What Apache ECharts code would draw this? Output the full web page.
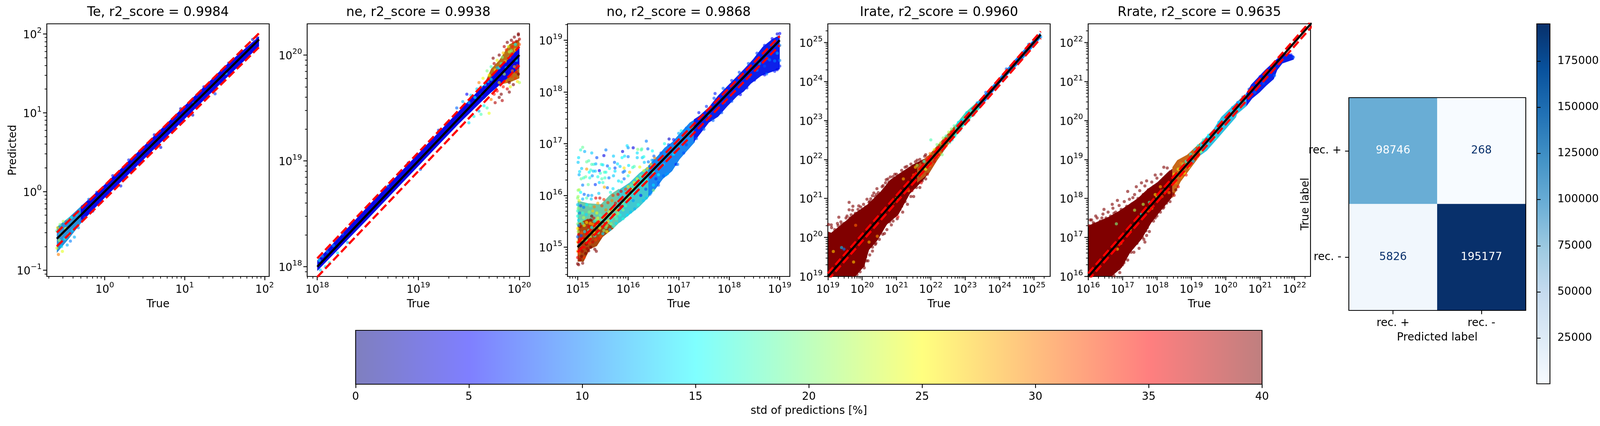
<!DOCTYPE html>
<html><head><meta charset="utf-8">
<!-- NOTE: the sandbox browser reports innerWidth=4096 although 4886 is requested; horizontal layout is scaled by innerWidth/4886 so that nothing is cut off. -->
<script src="https://cdn.jsdelivr.net/npm/echarts@6/dist/echarts.min.js"></script>
<style>html,body{margin:0;padding:0;background:#fff;overflow:hidden}</style>
</head><body><div id="c"></div>
<script>
// ---------- Colour scales ----------
const jetColors=['#00007f','#0000ff','#007fff','#00ffff','#7fff7f','#ffff00','#ff7f00','#ff0000','#7f0000'];
const bluesColors=['#f7fbff','#deebf7','#c6dbef','#9ecae1','#6baed6','#4292c6','#2171b5','#08519c','#08306b'];
const stdTicks=[0,5,10,15,20,25,30,35,40];
const countTicks=[25000,50000,75000,100000,125000,150000,175000];
const countRange=[268,195177];
// ---------- Confusion matrix ----------
const cmLabels=['rec. +','rec. -'];
const cmRowPlus=[98746,268];
const cmRowMinus=[5826,195177];
// ---------- Ideal line (true value range, log10) and the two dashed factors ----------
const upperFactor=1.2, lowerFactor=0.8;
const teLine=[-0.6,1.93], neLine=[18,20], noLine=[15,19], irLine=[19,25.2], rrLine=[16,23];
// ---------- Panel ranges (log10) ----------
const teX=[-0.725,2.057], teY=[-1.079,2.129];
const neX=[17.9,20.1],   neY=[17.908,20.295];
const noX=[14.8,19.2],   noY=[14.434,19.317];
const irX=[19,25.476],   irY=[19,25.476];
const rrX=[16,22.467],   rrY=[16,22.476];
// ---------- Dense band outlines [log10 true, log10 predicted] ----------
const teBand=[[-0.3,-0.19],[0,0.09],[0.5,0.59],[1,1.09],[1.5,1.59],[1.93,1.97],[1.93,1.84],[1.5,1.42],[1,0.92],[0.5,0.42],[0,-0.08],[-0.3,-0.4]];
const teBandLow=[[-0.6,-0.45],[-0.45,-0.33],[-0.28,-0.17],[-0.28,-0.38],[-0.45,-0.6],[-0.6,-0.78]];
const neBand=[[18,18.06],[18.5,18.57],[19,19.07],[19.4,19.47],[19.7,19.77],[20.0,20.07],[20.0,19.88],[19.7,19.63],[19.4,19.35],[19,18.95],[18.5,18.45],[18,17.96]];
const neFringe=[[19.65,19.72],[19.72,19.87],[19.8,19.95],[19.9,20.1],[20.0,20.15],[20.0,19.78],[19.9,19.74],[19.8,19.72],[19.75,19.68],[19.65,19.58]];
const noBlue=[[17.3,17.47],[17.41,17.54],[17.6,17.71],[17.78,17.93],[17.97,18.12],[18.1,18.25],[18.29,18.44],[18.47,18.63],[18.66,18.87],[18.85,19.02],[19.0,19.1],[19,18.44],[18.82,18.38],[18.63,18.31],[18.43,18.16],[18.29,18.01],[18.16,17.92],[17.97,17.73],[17.78,17.52],[17.6,17.41],[17.41,17.17],[17.3,17.03]];
const noCyan=[[16.4,16.58],[16.59,16.77],[16.72,16.92],[16.87,17.03],[17.06,17.24],[17.22,17.41],[17.32,17.47],[17.32,17.03],[17.22,16.92],[17.02,16.7],[16.87,16.47],[16.69,16.32],[16.53,16.11],[16.4,15.98]];
const noGreen=[[15.8,16.1],[16.03,16.25],[16.22,16.43],[16.42,16.58],[16.42,15.98],[16.22,15.78],[16.03,15.63],[15.84,15.48],[15.8,15.46]];
const noLowTop=[[15,15.9],[15.21,15.85],[15.46,15.83],[15.65,16.02],[15.82,16.13],[15.82,15.47],[15.71,15.36],[15.5,15.45],[15.2,15.5],[15,15.4]];
const noLowBot=[[15,15.45],[15.2,15.55],[15.5,15.5],[15.71,15.4],[15.71,15.36],[15.5,15.2],[15.38,15.02],[15.24,14.96],[15.12,14.72],[15,14.72]];
const irRed=[[19,20.15],[19.1,20.12],[19.49,20.4],[19.78,20.62],[20.16,20.85],[20.53,21.17],[20.82,21.48],[21.1,21.65],[21.48,21.87],[21.77,22.0],[21.95,22.08],[21.95,21.66],[21.77,21.46],[21.39,21.12],[21.05,20.58],[20.72,20.33],[20.44,19.92],[20.2,19.68],[20.06,19.26],[19.8,19],[19,19]];
const irWarm=[[21.6,21.85],[21.95,22.12],[22.33,22.5],[22.71,22.88],[22.71,22.58],[22.52,22.39],[22.19,21.98],[21.95,21.64],[21.6,21.4]];
const irCyan=[[22.71,22.88],[23.0,23.2],[23.4,23.52],[23.4,23.28],[23.0,22.9],[22.71,22.58]];
const irBlue=[[23.4,23.52],[23.72,23.82],[24.63,24.74],[25.19,25.25],[25.21,25.12],[24.63,24.52],[24.06,24.0],[23.4,23.28]];
const rrRed=[[16,17.3],[16.31,17.42],[16.6,17.53],[16.88,17.67],[17.17,17.84],[17.45,18.01],[17.74,18.25],[18.02,18.42],[18.31,18.67],[18.45,18.76],[18.45,18.04],[18.07,17.64],[17.83,17.37],[17.55,16.95],[17.22,16.61],[16.98,16.23],[16.68,16],[16,16]];
const rrWarm=[[18.45,18.8],[18.59,18.98],[18.88,19.12],[19.26,19.43],[19.26,19.1],[19.07,18.88],[18.69,18.43],[18.45,18.0]];
const rrCyan=[[19.26,19.43],[19.64,19.77],[19.87,20.09],[20.34,20.49],[20.6,20.7],[20.6,20.36],[20.33,20.16],[20.3,20.08],[19.73,19.5],[19.45,19.22],[19.26,19.1]];
const rrBlue=[[20.6,20.7],[20.74,20.92],[21.14,21.29],[21.54,21.62],[21.8,21.72],[21.98,21.66],[21.98,21.56],[21.65,21.46],[21.5,21.29],[21.4,21.06],[21.18,20.89],[20.99,20.72],[20.77,20.56],[20.6,20.36]];
// ---------- Individual points [log10 true, log10 predicted, std %] ----------
const tePoints=[[-0.6,-0.72,24],[-0.6,-0.5,18],[-0.59,-0.46,26],[-0.58,-0.8,30],[-0.57,-0.62,22],[-0.56,-0.42,20],[-0.55,-0.55,28],[-0.54,-0.7,14],[-0.53,-0.76,24],[-0.52,-0.38,22],[-0.5,-0.6,16],[-0.49,-0.47,25],[-0.47,-0.68,12],[-0.46,-0.36,18],[-0.45,-0.55,20],[-0.43,-0.63,10],[-0.42,-0.33,16],[-0.4,-0.49,14],[-0.38,-0.58,12],[-0.36,-0.29,15],[-0.33,-0.46,11],[-0.3,-0.37,10],[-0.28,-0.19,9],[-0.25,-0.33,8],[-0.2,-0.1,9],[-0.15,-0.25,7],[-0.1,-0.01,6],[-0.05,-0.14,7],[0.1,0.2,5],[0.3,0.4,6],[0.62,0.72,4],[0.95,1.05,3],[1.115,1.12,12],[1.516,1.5,14],[1.38,1.24,7],[1.24,1.33,5],[1.55,1.63,4],[1.7,1.76,3],[1.85,1.93,3],[1.9,1.96,2],[0.2,0.07,6],[0.7,0.56,4],[1.1,0.97,3]];
const nePoints=[[18.02,18.06,15],[18.03,17.97,13],[18.05,18.1,12],[18.08,18.0,14],[18.1,18.14,10],[18.12,18.04,16],[18.16,18.2,11],[18.2,18.13,14],[18.25,18.31,9],[18.3,18.23,12],[18.7,18.76,8],[18.9,18.98,6],[19.02,18.92,8],[19.2,19.29,7],
[19.38,19.5,9],[19.44,19.56,12],[19.48,19.63,5],[19.5,19.55,13],[19.52,19.62,14],[19.56,19.6,15],[19.58,19.68,13],[19.6,19.74,30],[19.62,19.7,15],[19.64,19.78,24],[19.66,19.72,17],[19.68,19.85,20],[19.7,19.81,25],[19.72,19.89,18],[19.72,19.77,16],[19.75,19.92,38],[19.76,19.86,26],[19.78,19.95,24],[19.8,19.88,15],[19.8,20.0,40],[19.83,19.98,20],[19.85,20.08,38],[19.86,19.94,28],[19.88,20.12,40],[19.9,20.03,22],[19.9,19.98,14],[19.92,20.14,40],[19.93,20.08,34],[19.95,20.17,40],[19.96,20.05,26],[19.97,20.13,38],[19.99,20.19,40],[20.0,20.15,38],[20.0,20.1,32],[19.99,20.2,40],[19.94,20.12,36],[19.87,20.05,33],[19.82,19.92,18],
[19.5,19.36,14],[19.55,19.42,16],[19.6,19.47,12],[19.62,19.44,18],[19.65,19.52,15],[19.68,19.5,18],[19.7,19.45,24],[19.72,19.58,30],[19.75,19.63,34],[19.76,19.55,38],[19.78,19.66,35],[19.8,19.6,40],[19.82,19.63,40],[19.84,19.7,34],[19.86,19.75,30],[19.88,19.68,36],[19.9,19.74,40],[19.92,19.8,33],[19.94,19.72,40],[19.96,19.78,33],[19.98,19.75,26],[20.0,19.74,22],[19.99,19.82,40],[19.97,19.84,36],[19.93,19.85,30],[19.85,19.82,22],[19.98,19.9,33],[19.95,19.89,28],[19.8,19.74,26],[19.9,19.65,40],[19.83,19.57,38],
[19.74,19.97,40],[19.84,20.02,27],[19.92,20.04,20],[19.96,20.1,15],[19.89,20.08,24],[19.78,19.88,12],[19.69,19.75,14],[19.62,19.62,12],[19.97,19.95,14],[19.87,19.88,13],[19.91,19.7,24]];
const noPoints=[[15.06,16.88,17],[15.1,16.93,19],[15.14,16.85,12],[15.28,16.82,13],[15.02,16.73,14],[15.01,16.64,13],[15.38,16.73,8],[15.52,16.77,4],[15.56,16.88,10],[15.71,16.76,13],[15.73,16.64,9],[15.79,16.61,14],[15.89,16.85,4],[15.93,16.76,14],[15.88,16.73,15],[16.0,16.75,10],[15.98,16.96,14],[16.0,16.92,11],[16.1,16.92,4],[16.19,16.89,20],[16.27,16.9,18],[16.26,16.88,18],[16.36,17.05,10],[16.39,16.9,9],[16.48,16.86,15],[16.18,16.82,14],[16.18,16.73,13],[16.28,16.73,13],[16.31,16.75,16],[16.32,16.64,13],[16.4,16.65,10],[16.51,16.76,9],[16.47,16.68,12],[15.18,16.65,19],[15.22,16.67,18],[15.28,16.6,18],[15.32,16.6,17],[15.36,16.61,12],[15.47,16.6,17],[15.5,16.59,14],[15.59,16.57,9],[15.63,16.52,16],[15.08,16.52,13],[15.04,16.46,14],[15.03,16.4,12],[15.18,16.51,29],[15.26,16.49,17],[15.23,16.45,15],[15.31,16.47,13],[15.35,16.47,13],[15.43,16.48,5],[15.45,16.43,17],[15.53,16.45,18],[15.56,16.45,16],[15.07,16.32,19],[15.12,16.34,17],[15.16,16.36,19],[15.24,16.34,16],[15.29,16.38,11],[15.4,16.36,16],[15.48,16.32,18],[15.54,16.34,17],[15.62,16.34,10],[15.74,16.53,8],[15.74,16.47,14],[15.84,16.56,13],[15.92,16.53,26],[15.9,16.45,9],[15.93,16.47,10],[16.03,16.45,27],[16.01,16.58,14],[16.09,16.54,17],[16.12,16.56,18],[16.23,16.55,24],[15.71,16.38,13],[15.81,16.28,14],[16.0,16.38,17],[15.92,16.32,9],[15.87,16.26,16],[15.1,16.2,10],[15.35,16.21,7],[15.21,16.21,19],[15.53,16.16,28],[15.43,16.25,13],[15.5,16.25,17],[15.59,16.15,9],[15.7,16.13,14],[15.01,16.1,20],[15.03,16.11,22],[15.06,16.06,15],[15.13,16.02,9],[15.21,16.0,10],[15.28,16.0,12],[15.42,16.04,13],[15.65,16.06,16],
[15.0,14.68,40],[15.02,14.66,40],[15.1,14.69,40],[15.05,14.76,38],[15.0,14.8,36],[15.08,14.82,40],[15.13,14.8,33],[15.03,14.88,32],[15.16,14.88,40],[15.0,14.92,29],[15.09,14.92,38],[15.22,14.93,40],[15.19,14.97,38],[15.06,14.97,40],[15.13,15.0,35],[15.02,15.02,32],[15.26,15.0,40],[15.34,14.96,40],[15.37,14.92,40],[15.17,15.06,40],[15.09,15.08,37],[15.0,15.1,28],[15.24,15.08,33],[15.3,15.1,37],[15.05,15.15,35],[15.14,15.16,38],[15.2,15.18,30],[15.36,15.14,33],[15.42,15.17,34],[15.02,15.24,36],[15.08,15.28,32],[15.17,15.3,37],[15.26,15.26,28],[15.32,15.29,26],[15.46,15.21,32],[15.0,15.36,25],[15.05,15.4,38],[15.13,15.42,24],[15.22,15.4,36],[15.3,15.44,29],[15.38,15.42,22],[15.44,15.37,24],[15.52,15.32,20],[15.58,15.3,24],[15.2,15.5,38],[15.26,15.53,39],[15.32,15.56,36],[15.28,15.6,40],[15.36,15.52,20],[15.42,15.5,28],
[15.0,15.45,20],[15.02,15.52,14],[15.07,15.5,18],[15.12,15.57,22],[15.0,15.6,16],[15.04,15.66,10],[15.1,15.66,17],[15.17,15.63,14],[15.23,15.68,20],[15.3,15.7,27],[15.38,15.66,24],[15.45,15.62,18],[15.52,15.55,22],[15.6,15.5,26],[15.66,15.45,20],[15.01,15.75,20],[15.06,15.8,8],[15.12,15.77,10],[15.18,15.82,15],[15.25,15.8,18],[15.33,15.78,30],[15.4,15.85,28],[15.48,15.8,33],[15.56,15.72,30],[15.63,15.68,26],[15.7,15.62,30],[15.77,15.55,17],[15.03,15.9,24],[15.1,15.93,12],[15.18,15.95,18],[15.27,15.93,13],[15.36,15.95,36],[15.44,15.95,37],[15.52,15.92,33],[15.6,15.86,33],[15.68,15.9,30],[15.75,15.85,36],[15.84,15.8,36],[15.9,15.72,20],[15.8,15.65,22],
[15.7,16.0,33],[15.8,16.02,35],[15.86,16.08,36],[15.95,16.12,32],[16.0,16.17,26],[16.06,16.2,20],[16.12,16.25,25],[16.18,16.32,24],[16.25,16.38,20],[16.31,16.48,24],[16.38,16.52,27],[16.45,16.6,26],[16.53,16.72,30],[15.9,15.55,16],[15.98,15.62,14],[16.05,15.68,13],[16.13,15.74,12],[16.2,15.82,16],[16.3,15.9,13],[16.36,15.95,13],[16.43,16.02,10],[16.5,16.1,20],[16.6,16.25,9],[16.7,16.38,9],[16.78,16.42,11],[16.25,16.0,6],[16.35,16.12,8],[16.55,16.32,7],[16.1,15.9,11],[15.95,15.8,18],[16.1,16.05,16],
[15.04,15.05,12],[15.11,15.12,25],[15.18,15.13,19],[15.25,15.2,22],[15.34,15.22,16],[15.41,15.28,18],[15.5,15.26,14],[15.56,15.38,19],[15.64,15.34,13],[15.7,15.4,16],[15.76,15.46,14],[15.07,15.22,8],[15.14,15.3,14],[15.22,15.32,17],[15.28,15.38,15],[15.35,15.36,20],[15.43,15.42,14],[15.5,15.44,17],[15.58,15.42,21],[15.66,15.52,15],[15.74,15.6,19],[15.02,15.42,11],[15.1,15.46,17],[15.18,15.48,26],[15.25,15.46,28],[15.33,15.5,15],[15.4,15.56,24],[15.48,15.5,16],[15.55,15.6,28],[15.62,15.58,18],[15.69,15.72,24],[15.77,15.72,28],[15.84,15.62,16],[15.9,15.85,20],[15.96,15.93,26],[16.02,15.98,22],[16.08,16.12,24],[15.88,15.93,33],[15.96,16.04,30],[16.03,16.08,34],[16.14,16.18,22],[16.22,16.2,16],[16.28,16.26,14],[16.34,16.38,18],[15.0,15.7,17],[15.0,15.82,13],[15.0,15.95,20],[15.01,15.98,21],[15.0,15.2,9],[15.01,15.3,22],
[17.4,17.6,6],[17.55,17.72,7],[17.7,17.88,8],[17.88,18.07,9],[18.05,18.22,7],[18.2,18.38,8],[18.38,18.55,8],[18.55,18.75,7],[18.7,18.9,6],[18.85,19.03,5],[18.95,19.12,4],[19,19.13,5],[18.95,18.43,4],[18.7,18.33,5],[18.5,18.23,6],[18.35,18.08,6],[18.22,17.95,5],[18.05,17.82,8],[17.85,17.6,8],[17.68,17.45,9],[17.5,17.28,9],[17.35,17.1,8],[18.9,18.6,10],[18.75,18.65,10],[18.4,18.3,9],[18.6,18.55,11],[17.9,17.8,10],[17.6,17.55,11],
[16.5,16.68,10],[16.65,16.82,9],[16.8,16.98,8],[17.0,17.2,12],[17.15,17.3,10],[17.25,17.32,14],[17.15,16.98,8],[16.95,16.6,6],[16.75,16.4,11],[16.6,16.2,9],[16.5,16.2,14],[16.45,16.05,11],[16.7,16.6,13],[16.9,16.8,15],[17.0,16.95,12],[16.6,16.4,15],[16.5,16.45,18],[16.35,16.3,17],
[17.72,17.97,6],[16.81,17.09,3],[16.72,17.0,16],[18.74,18.35,9],[18.9,18.4,6],[19,18.61,10],[18.2,18.3,9],[18.55,18.42,10],[18.8,18.62,10],[18.95,18.75,12],[19.0,18.9,10],[18.88,18.9,9],[18.7,18.5,8],[19,18.5,6],[16.98,16.6,10],[17.1,16.82,8],[17.22,17.1,11],[16.9,17.08,6],[17.05,17.25,15]];
const irRimUpper=[[19.05,20.05],[19.1,20.32],[19.2,20.2],[19.3,20.3],[19.38,20.4],[19.47,20.36],[19.56,20.55],[19.64,20.5],[19.72,20.7],[19.8,20.62],[19.88,20.72],[19.96,20.78],[20.04,20.85],[20.1,20.78],[20.14,20.98],[20.25,20.99],[20.3,21.07],[20.38,21.05],[20.43,21.25],[20.47,21.15],[20.58,21.3],[20.63,21.2],[20.7,21.48],[20.78,21.42],[20.9,21.56],[21.0,21.62],[21.08,21.55],[21.15,21.72],[21.22,21.65],[21.3,21.82],[21.36,21.72],[21.42,21.88],[21.5,21.8],[21.55,21.94],[21.62,21.85],[21.68,22.0],[21.75,21.92],[21.82,22.08]];
const irRimLower=[[19.78,19.1],[19.85,19.05],[19.9,19.3],[19.94,19.12],[20.0,19.42],[20.04,19.28],[20.08,19.55],[20.12,19.4],[20.15,19.7],[20.22,19.55],[20.25,19.78],[20.3,19.65],[20.35,19.93],[20.38,19.82],[20.45,20.02],[20.5,19.95],[20.56,20.2],[20.6,20.08],[20.68,20.35],[20.72,20.2],[20.8,20.4],[20.85,20.32],[20.95,20.55],[21.02,20.48],[21.1,20.72],[21.18,20.65],[21.25,20.92],[21.32,20.85],[21.42,21.05],[21.5,21.05],[21.58,21.28],[21.68,21.28],[21.75,21.45],[21.85,21.5]];
const irPoints=[[19.62,20.9,40],[19.73,20.8,40],[19.9,20.81,40],[19.62,20.71,40],[19.32,20.52,40],[21.04,20.53,36],[20.82,21.55,40],[20.75,21.5,40],[20.68,21.4,40],[20.61,21.33,40],[20.34,21.14,40],[20.22,20.92,40],[19.02,20.33,40],[19.11,20.25,40],[19.28,20.36,40],[19.4,20.33,40],[19.53,20.5,40],[19.68,20.58,40],[20.06,19.22,40],[19.87,19.22,40],[20.02,19.33,40],[20.17,19.4,40],[20.4,19.85,40],[20.65,20.1,40],[19.73,19.03,40],[20.1,19.5,40],[20.3,19.75,40],[20.55,20.15,40],[20.9,20.42,40],[21.15,20.8,40],[21.45,21.2,38],[21.72,21.4,36],[21.9,21.62,38],[20.2,20.9,40],[20.42,21.1,40],[20.95,21.62,40],[21.25,21.8,40],[21.6,21.98,40],[21.85,22.12,40],
[19.4,19.74,13],[19.47,19.7,10],[19.16,19.64,27],[19.75,19.37,27],[19.81,20.31,31],[20.2,19.88,28],[20.44,20.03,29],[20.9,20.9,30],[21.0,21.0,24],[21.5,21.6,31],[21.7,21.6,30],[21.55,21.8,27],[21.2,21.5,28],[21.35,21.2,30],[21.85,21.75,24],[21.6,21.85,22],[21.8,21.95,17],[21.95,21.85,25],[21.9,22.05,33],
[21.98,22.15,30],[22.02,21.85,33],[22.1,22.25,24],[22.1,21.95,36],[22.18,22.38,20],[22.2,22.1,28],[22.28,22.42,22],[22.28,22.15,30],[22.36,22.55,21],[22.35,22.25,17],[22.44,22.6,18],[22.45,22.35,25],[22.52,22.7,22],[22.55,22.43,17],[22.6,22.78,20],[22.62,22.5,14],[22.68,22.86,18],[22.7,22.6,15],[22.8,22.95,14],[22.85,22.75,15],[22.9,23.0,12],[22.95,22.9,14],[23.05,23.2,13],[23.1,23.0,13],[23.2,23.3,12],[23.25,23.15,13],[22.0,22.5,18],[22.33,22.12,20],[23.35,23.45,10],[23.6,23.72,9],[23.9,23.95,9],[24.2,24.32,9],[24.5,24.55,9],[24.85,24.95,9],[25.1,25.15,9],[25.2,25.14,11]];
const rrRimUpper=[[16.03,17.3],[16.1,17.45],[16.18,17.35],[16.26,17.5],[16.35,17.42],[16.43,17.6],[16.52,17.5],[16.58,17.65],[16.65,17.55],[16.72,17.75],[16.8,17.65],[16.9,17.82],[16.96,17.72],[17.05,17.92],[17.12,17.8],[17.2,17.98],[17.27,17.86],[17.35,18.1],[17.45,18.0],[17.5,18.2],[17.6,18.1],[17.65,18.32],[17.75,18.22],[17.85,18.42],[17.9,18.3],[18.0,18.52],[18.05,18.38],[18.12,18.62],[18.2,18.52],[18.3,18.78],[18.38,18.68]];
const rrRimLower=[[16.68,16.08],[16.75,16.02],[16.85,16.35],[16.92,16.1],[17.0,16.3],[17.06,16.55],[17.15,16.42],[17.25,16.62],[17.33,16.62],[17.42,16.85],[17.48,16.72],[17.58,17.0],[17.62,16.95],[17.72,17.25],[17.78,17.15],[17.9,17.42],[18.0,17.55],[18.1,17.65],[18.18,17.75],[18.28,17.88],[18.38,17.92],[18.46,18.12],[18.55,18.22]];
const rrPoints=[[16.06,17.45,40],[16.22,17.55,40],[16.46,17.72,40],[16.7,17.85,40],[16.85,17.95,40],[17.15,18.18,40],[17.4,18.3,40],[17.55,18.4,40],[17.7,18.45,40],[17.95,18.6,40],[18.2,18.8,40],[16.98,16.45,40],[16.8,16.15,40],[16.9,16.2,40],[17.04,16.35,40],[17.1,16.55,40],[17.3,16.75,40],[17.52,17.1,40],[17.7,17.05,40],[17.65,16.88,40],[17.68,17.17,40],[17.95,17.5,40],[18.2,17.78,40],[18.3,17.95,40],[18.5,18.08,38],[18.62,18.3,36],[18.85,18.6,34],[16.15,17.38,40],[16.4,17.5,40],[16.75,17.62,40],[17.3,18.02,40],
[16.82,17.35,20],[17.22,17.2,27],[17.35,17.7,22],[17.42,17.45,18],[17.55,17.6,16],[17.6,17.85,22],[17.75,17.68,30],[17.78,17.9,18],[17.85,17.75,24],[17.95,18.1,26],[18.0,18.05,24],[18.1,18.3,28],[18.15,18.05,32],[18.2,18.2,20],[18.3,18.35,25],[18.35,18.15,30],[16.95,16.85,30],[16.85,16.7,27],
[18.5,18.62,26],[18.55,18.4,30],[18.62,18.75,24],[18.7,18.55,30],[18.75,18.88,20],[18.8,18.65,26],[18.85,18.95,16],[18.92,18.8,24],[18.98,19.13,15],[19.05,18.95,12],[19.1,19.25,13],[19.15,19.05,20],[18.7,18.9,30],[19.2,19.35,15],[19.28,19.2,23],[19.35,19.5,17],[19.42,19.3,14],[19.5,19.62,15],[19.55,19.45,13],[19.65,19.72,18],[19.7,19.55,17],[19.8,19.95,13],[19.9,19.78,14],[20.0,20.1,12],[20.1,20.0,14],[20.2,20.33,12],[20.25,20.15,13],[20.35,20.46,10],[20.42,20.3,12],[20.5,20.6,9],[20.55,20.42,10],[20.68,20.8,8],[20.85,20.72,9],[21.0,21.12,6],[21.1,20.95,8],[21.3,21.2,7],[21.42,21.15,9],[21.5,21.52,4],[21.6,21.62,5],[21.75,21.68,5],[21.9,21.68,6],[21.97,21.62,8]];
// ---------- Tick labels (decades) ----------
const teXTicks=[1,10,100], teYTicks=[0.1,1,10,100];
const neXTicks=[1e18,1e19,1e20], neYTicks=[1e18,1e19,1e20];
const noXTicks=[1e15,1e16,1e17,1e18,1e19], noYTicks=[1e15,1e16,1e17,1e18,1e19];
const irXTicks=[1e19,1e20,1e21,1e22,1e23,1e24,1e25], irYTicks=irXTicks;
const rrXTicks=[1e16,1e17,1e18,1e19,1e20,1e21,1e22], rrYTicks=rrXTicks;

const W=window.innerWidth||4886, H=1091, SX=W/4886;
const dom=document.getElementById('c');dom.style.width=W+'px';dom.style.height=H+'px';
const FONT='"DejaVu Sans"';
const TICK=27.8, TITLE=33.3, LW=2.2;
const rich={b:{fontSize:TICK,fontFamily:FONT,color:'#000',lineHeight:36,verticalAlign:'bottom'},
            s:{fontSize:19.5,fontFamily:FONT,color:'#000',lineHeight:36,verticalAlign:'top'}};
function logFmt(v){const e=Math.round(Math.log10(v));return '{b|10}{s|'+(e<0?'\u2212'+(-e):e)+'}';}
function minors(r){const out=[];for(let k=Math.floor(r[0]);k<=Math.ceil(r[1]);k++){for(let m=2;m<=9;m++){const v=Number(m+'e'+k);const l=Math.log10(v);if(l>r[0]&&l<r[1])out.push(v);}}return out;}
const rim=(a,s)=>a.map(p=>[p[0],p[1],s]);
const nameStyle={fontSize:TICK,fontFamily:FONT,color:'#000',verticalAlign:'middle',align:'center'};

const panels=[
 {title:'Te, r2_score = 0.9984',box:[143,61,679,647],xr:teX,yr:teY,xt:teXTicks,yt:teYTicks,line:teLine,pts:tePoints,
  layers:[[teBandLow,'#2a90d8'],[teBand,'#0808e8']],yName:'Predicted'},
 {title:'ne, r2_score = 0.9938',box:[938,61,679,647],xr:neX,yr:neY,xt:neXTicks,yt:neYTicks,line:neLine,pts:nePoints,
  layers:[[neFringe,'#b87018'],[neBand,'#0808e8']]},
 {title:'no, r2_score = 0.9868',box:[1733,61,679,647],xr:noX,yr:noY,xt:noXTicks,yt:noYTicks,line:noLine,pts:noPoints,
  layers:[[noLowTop,'#6cc8a8'],[noLowBot,'#a84810'],[noGreen,'#40c8d0'],[noCyan,'#1a86f0'],[noBlue,'#0c20ea']]},
 {title:'Irate, r2_score = 0.9960',box:[2528,61,679,647],xr:irX,yr:irY,xt:irXTicks,yt:irYTicks,line:irLine,pts:rim(irRimUpper,40).concat(rim(irRimLower,40),irPoints),
  layers:[[irRed,'#800000'],[irWarm,'#b85818'],[irCyan,'#40d8b0'],[irBlue,'#1a80f0']]},
 {title:'Rrate, r2_score = 0.9635',box:[3323,61,679,647],xr:rrX,yr:rrY,xt:rrXTicks,yt:rrYTicks,line:rrLine,pts:rim(rrRimUpper,40).concat(rim(rrRimLower,40),rrPoints),
  layers:[[rrRed,'#800000'],[rrWarm,'#c86818'],[rrCyan,'#30c0e0'],[rrBlue,'#0c20ea']]}
];

const grid=[],xAxis=[],yAxis=[],series=[],title=[];
const scatterIdx=[];
panels.forEach(function(p){
  const l=p.box[0]*SX,t=p.box[1],w=p.box[2]*SX,h=p.box[3];
  grid.push({left:l,top:t,width:w,height:h,show:true,borderColor:'#000',borderWidth:LW,backgroundColor:'transparent',z:3});
  title.push({text:p.title,left:l+w/2,top:16,textAlign:'center',padding:0,textStyle:{fontSize:TITLE,fontWeight:'normal',fontFamily:FONT,color:'#000'}});
  const gi=grid.length-1;
  const base=(r,ticks,extra)=>Object.assign({type:'log',logBase:10,gridIndex:gi,min:Math.pow(10,r[0]),max:Math.pow(10,r[1]),splitLine:{show:false},minorTick:{show:false},minorSplitLine:{show:false},axisLine:{show:false},nameMoveOverlap:false,
     axisTick:{show:true,inside:false,length:9.7,lineStyle:{width:LW,color:'#000'},customValues:ticks},
     axisLabel:{show:true,margin:13,customValues:ticks,formatter:logFmt,rich:rich,hideOverlap:false}},extra);
  const baseMinor=(r,extra)=>Object.assign({type:'log',logBase:10,gridIndex:gi,min:Math.pow(10,r[0]),max:Math.pow(10,r[1]),splitLine:{show:false},axisLine:{show:false},
     axisLabel:{show:false},axisTick:{show:true,length:5.6,lineStyle:{width:1.7,color:'#000'},customValues:minors(r)}},extra);
  const xi=xAxis.length, yi=yAxis.length;
  xAxis.push(base(p.xr,p.xt,{position:'bottom',name:'True',nameLocation:'middle',nameGap:72,nameTextStyle:nameStyle}));
  xAxis.push(baseMinor(p.xr,{position:'bottom'}));
  const yExtra={position:'left'};
  if(p.yName){Object.assign(yExtra,{name:p.yName,nameLocation:'middle',nameGap:86,nameRotate:90,nameTextStyle:nameStyle});}
  yAxis.push(base(p.yr,p.yt,yExtra));
  yAxis.push(baseMinor(p.yr,{position:'left'}));
  p.layers.forEach(function(ly){
    const verts=ly[0].map(v=>[Math.pow(10,v[0]),Math.pow(10,v[1])]);
    series.push({type:'custom',coordinateSystem:'cartesian2d',xAxisIndex:xi,yAxisIndex:yi,clip:true,silent:true,z:2,
      data:verts,encode:{x:0,y:1},
      renderItem:function(params,api){
        if(params.dataIndex!==0)return null;
        return {type:'polygon',shape:{points:verts.map(v=>api.coord(v))},style:{fill:ly[1]}};
      }});
  });
  scatterIdx.push(series.length);
  series.push({type:'scatter',xAxisIndex:xi,yAxisIndex:yi,clip:true,symbolSize:8,z:3,
    itemStyle:{opacity:0.6},
    data:p.pts.map(d=>[Math.pow(10,d[0]),Math.pow(10,d[1]),d[2]]),encode:{x:0,y:1}});
  const a=Math.pow(10,p.line[0]), b=Math.pow(10,p.line[1]);
  series.push({type:'line',xAxisIndex:xi,yAxisIndex:yi,clip:true,showSymbol:false,silent:true,z:4,
    lineStyle:{color:'#000',width:5.5},data:[[a,a],[b,b]]});
  [upperFactor,lowerFactor].forEach(function(f){
    series.push({type:'line',xAxisIndex:xi,yAxisIndex:yi,clip:true,showSymbol:false,silent:true,z:5,
      lineStyle:{color:'#ff0000',width:5.5,type:[20.5,8.9]},data:[[a,a*f],[b,b*f]]});
  });
});

// std colourbar
const stdG=grid.length;
grid.push({left:1086*SX,top:846,width:2768*SX,height:138,show:true,borderColor:'#000',borderWidth:LW,
  backgroundColor:{type:'linear',x:0,y:0,x2:1,y2:0,colorStops:jetColors.map((c,i)=>({offset:i/(jetColors.length-1),color:c+'80'}))}});
xAxis.push({type:'value',gridIndex:stdG,min:stdTicks[0],max:stdTicks[stdTicks.length-1],interval:5,position:'bottom',splitLine:{show:false},axisLine:{show:false},nameMoveOverlap:false,
  axisTick:{show:true,length:9.7,lineStyle:{width:LW,color:'#000'}},axisLabel:{margin:19,fontSize:TICK,fontFamily:FONT,color:'#000'},
  name:'std of predictions [%]',nameLocation:'middle',nameGap:69,nameTextStyle:nameStyle});
yAxis.push({type:'value',gridIndex:stdG,show:false,min:0,max:1,splitLine:{show:false}});

// confusion matrix
const cmG=grid.length;
grid.push({left:4119*SX,top:250,width:540*SX,height:545,show:false});
const cmX=xAxis.length, cmY=yAxis.length;
xAxis.push({type:'category',gridIndex:cmG,data:cmLabels,position:'bottom',z:6,splitLine:{show:false},splitArea:{show:false},nameMoveOverlap:false,
  axisLine:{show:true,onZero:false,lineStyle:{width:LW,color:'#000'}},axisTick:{show:true,alignWithLabel:true,length:9.7,lineStyle:{width:LW,color:'#000'}},
  axisLabel:{margin:19,fontSize:TICK,fontFamily:FONT,color:'#000'},
  name:'Predicted label',nameLocation:'middle',nameGap:70,nameTextStyle:nameStyle});
xAxis.push({type:'category',gridIndex:cmG,data:cmLabels,position:'top',z:6,axisLine:{show:true,onZero:false,lineStyle:{width:LW,color:'#000'}},axisTick:{show:false},axisLabel:{show:false},splitLine:{show:false}});
yAxis.push({type:'category',gridIndex:cmG,data:cmLabels.slice().reverse(),position:'left',z:6,splitLine:{show:false},splitArea:{show:false},nameMoveOverlap:false,
  axisLine:{show:true,onZero:false,lineStyle:{width:LW,color:'#000'}},axisTick:{show:true,alignWithLabel:true,length:9.7,lineStyle:{width:LW,color:'#000'}},
  axisLabel:{margin:19,fontSize:TICK,fontFamily:FONT,color:'#000'},
  name:'True label',nameLocation:'middle',nameGap:132*SX,nameRotate:90,nameTextStyle:nameStyle});
yAxis.push({type:'category',gridIndex:cmG,data:cmLabels.slice().reverse(),position:'right',z:6,axisLine:{show:true,onZero:false,lineStyle:{width:LW,color:'#000'}},axisTick:{show:false},axisLabel:{show:false},splitLine:{show:false}});
const cmIdx=series.length;
const midCount=(countRange[0]+countRange[1])/2;
const cmData=[];
[cmRowPlus,cmRowMinus].forEach(function(row,r){row.forEach(function(v,c){
  cmData.push({value:[c,1-r,v],label:{color:v>midCount/2?'#ffffff':'#08306b'}});
});});
series.push({type:'heatmap',xAxisIndex:cmX,yAxisIndex:cmY,data:cmData,z:2,
  label:{show:true,fontSize:TICK,fontFamily:FONT,formatter:p=>String(p.value[2])},itemStyle:{borderWidth:0}});

// counts colourbar
const cntG=grid.length;
grid.push({left:4693*SX,top:61,width:46*SX,height:922,show:true,borderColor:'#000',borderWidth:LW,
  backgroundColor:{type:'linear',x:0,y:1,x2:0,y2:0,colorStops:bluesColors.map((c,i)=>({offset:i/(bluesColors.length-1),color:c}))}});
xAxis.push({type:'value',gridIndex:cntG,show:false,min:0,max:1,splitLine:{show:false}});
yAxis.push({type:'value',gridIndex:cntG,position:'right',min:countRange[0],max:countRange[1],splitLine:{show:false},axisLine:{show:false},
  axisTick:{show:true,length:9.7,lineStyle:{width:LW,color:'#000'},customValues:countTicks},
  axisLabel:{margin:19,customValues:countTicks,formatter:v=>String(v),fontSize:TICK,fontFamily:FONT,color:'#000'}});

const chart=echarts.init(dom,null,{renderer:'canvas',width:W,height:H});
chart.setOption({backgroundColor:'#ffffff',animation:false,title:title,grid:grid,xAxis:xAxis,yAxis:yAxis,series:series,
  visualMap:[
    {type:'continuous',show:false,min:0,max:40,dimension:2,seriesIndex:scatterIdx,inRange:{color:jetColors}},
    {type:'continuous',show:false,min:countRange[0],max:countRange[1],dimension:2,seriesIndex:[cmIdx],inRange:{color:bluesColors}}
  ]});
</script></body></html>
